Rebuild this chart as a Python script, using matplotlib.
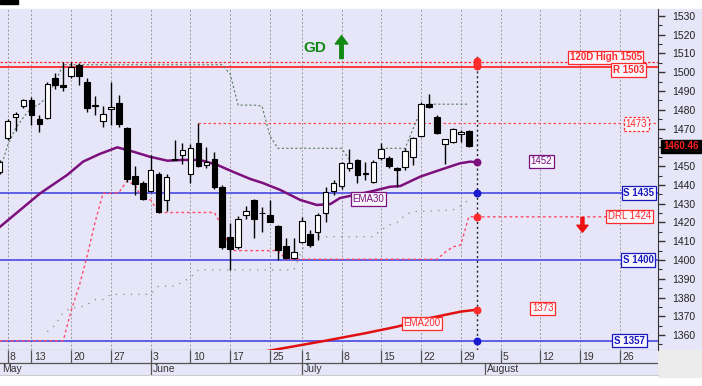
import matplotlib
matplotlib.use('Agg')
import matplotlib.pyplot as plt
import matplotlib.transforms as mtransforms
from matplotlib.patches import Rectangle
from matplotlib.ticker import MultipleLocator
import numpy as np

plt.rcParams['font.family'] = ['Liberation Sans', 'DejaVu Sans']

# daily candles, x = trading day index (0 = May 8)
day = np.arange(-1, 59)
opens = [1447, 1465, 1476, 1482, 1485, 1475, 1475.5, 1497, 1493, 1498,
         1504, 1495, 1482.5, 1474, 1480.5, 1483.5, 1470.5, 1445, 1441, 1437,
         1446, 1432, 1453.8, 1456, 1446, 1462.5, 1450.6, 1454, 1438.7, 1412.5,
         1407, 1424, 1432, 1425.2, 1424, 1418, 1407.5, 1401, 1409.7, 1414,
         1414.7, 1425, 1437, 1439.4, 1449, 1453, 1446.3, 1441.7, 1454.2, 1454.2,
         1448.8, 1449.7, 1454.7, 1466, 1483, 1476.4, 1461.8, 1463, 1467.1, 1468.7]
highs = [1453, 1475, 1479, 1486, 1487, 1477, 1495, 1499.5, 1505.5, 1505.5,
         1505, 1497, 1487.5, 1482, 1495, 1488, 1471, 1450, 1442, 1456,
         1447, 1446, 1464, 1462.5, 1462, 1473, 1460.4, 1457.7, 1440, 1419.5,
         1423.5, 1429, 1432.5, 1428, 1432, 1418.6, 1411.6, 1411.5, 1423, 1416,
         1425, 1439, 1442.5, 1452, 1459, 1453.6, 1452.4, 1453, 1462.5, 1455.4,
         1449.5, 1459.5, 1465.7, 1484, 1488.4, 1477, 1464.5, 1470.3, 1469, 1469]
lows = [1446, 1464, 1468.5, 1481, 1472, 1468, 1475, 1491, 1490, 1497,
        1493, 1479, 1477, 1471, 1472, 1471, 1441.5, 1434.5, 1432, 1436,
        1425, 1426, 1453, 1451, 1441, 1449.5, 1449, 1438, 1406, 1394.7,
        1406, 1422, 1411.5, 1415, 1420, 1400, 1400.4, 1400.5, 1409, 1407,
        1410.7, 1420.5, 1434.6, 1438, 1447.6, 1440.8, 1442.6, 1441, 1453.3, 1448.9,
        1439, 1448, 1450.6, 1465.5, 1481, 1467, 1451, 1462.5, 1463, 1460]
closes = [1452, 1474, 1478, 1485, 1477, 1472.5, 1494, 1493, 1492, 1503,
          1498, 1481, 1482, 1478, 1481.5, 1472.5, 1443, 1440.5, 1432.5, 1448,
          1425.5, 1444, 1453.5, 1458.5, 1459.5, 1450, 1452.4, 1438.7, 1407, 1406,
          1422, 1426, 1422, 1425, 1420.5, 1405.3, 1401, 1404.4, 1421, 1408,
          1424, 1436, 1441, 1451.5, 1451.5, 1445.3, 1446, 1452.4, 1459, 1450,
          1448, 1458.2, 1464.8, 1483, 1481.4, 1467.5, 1464.3, 1469.6, 1468.4, 1460.5]

ema30_day = [-1, 4.1, 7.5, 9.5, 11.6, 13.8, 15.8, 17.9, 20.1, 22.1, 24.2, 26.4, 28.4,
             30.5, 32.1, 34.3, 36.8, 38.9, 40.6, 41.8, 45.6, 48.1, 49.4, 51.9, 54.4,
             56.9, 58.2, 59]
ema30 = [1417.5, 1435.5, 1445.3, 1452.4, 1456.5, 1460, 1457.7, 1455, 1452.9, 1453.3,
         1453.3, 1450.6, 1446.9, 1443.2, 1441, 1437.3, 1432, 1429.3, 1429.8, 1433,
         1436.4, 1439, 1439.4, 1444.4, 1448, 1451.5, 1452.4, 1452]

ema200_day = [32, 36, 40, 45, 49, 53, 57, 58, 59]
ema200 = [1351, 1354, 1357, 1361, 1364.5, 1369, 1372.5, 1373, 1373.5]

drl_day = list(range(-1, 60)) + [80]
drl = [1357] * 9 + [1373, 1386, 1402, 1420, 1435.5, 1435.5, 1436, 1442, 1440, 1432.5,
                    1432] + [1425.3] * 8 + [1418, 1405] + [1405] * 6 + [1400.4] * 20 + \
      [1404, 1407, 1408, 1423, 1423, 1423]

trail_day = list(range(-1, 59))
trail = [1447, 1461, 1470, 1476, 1481, 1483, 1487, 1495, 1504] + [1504] * 20 + \
        [1499, 1482.5, 1482.5, 1482.5, 1482, 1466, 1459.5] + [1459.5] * 8 + \
        [1453.5, np.nan, np.nan, np.nan, 1459.5, 1459.5, 1459.5, 1459.5, 1470, 1480,
         1483, 1483, 1483, 1483, 1483, 1483]

stop_day = list(range(5, 59))
stop = [1361.8, 1365.5, 1372, 1374.6, 1374.6, 1376.2, 1378.9, 1378.9, 1381.6] + \
       [1381.7] * 5 + [1386, 1386, 1386, 1388.3, 1390.7] + [1394.7] * 13 + \
       [1405] + [1412.4] * 9 + [1416, 1418.6, 1420, 1424, 1425.7, 1426, 1426, 1426.3,
                                1426.5, 1426.6, 1429, 1432]

week_pos = [0, 3, 8, 13, 18, 23, 28, 33, 37, 42, 47, 52, 57, 62, 67, 72, 77]
week_lbl = ['8', '13', '20', '27', '3', '10', '17', '25', '1', '8', '15', '22', '29',
            '5', '12', '19', '26']
month_pos = [18, 37, 60]
month_lbl = ['June', 'July', 'August']

y_ticks = np.arange(1360, 1531, 10)
levels_blue = [1435.5, 1400, 1357]
last_price = 1460.46

lav = '#e6e6f8'
red = '#ff2a2a'
blue = '#5454e6'
purple = '#7d0f7d'

fig = plt.figure(figsize=(7.02, 3.86), dpi=100)
fig.patches.append(Rectangle((0, 36 / 386), 1, 341 / 386, transform=fig.transFigure,
                             color=lav, zorder=-10))
fig.patches.append(Rectangle((0, 382 / 386), 18 / 702, 4 / 386, transform=fig.transFigure,
                             color='black', zorder=-5))
fig.patches.append(Rectangle((658 / 702, 9 / 386), 44 / 702, 27 / 386,
                             transform=fig.transFigure, color='#ececec', zorder=-5))

ax = fig.add_axes([0, 36 / 386, 658 / 702, 341 / 386])
ax.set_facecolor(lav)
xmin, xmax = -0.95, 81.8
ax.set_xlim(xmin, xmax)
ax.set_ylim(1352.05, 1533.7)

ax.set_xticks(week_pos)
ax.tick_params(axis='x', length=0, labelbottom=False)
ax.grid(axis='x', color='#9a9a9a', ls=(0, (2, 2)), lw=0.7)
ax.set_axisbelow(True)

ax.yaxis.tick_right()
ax.set_yticks(y_ticks)
# the 1460 label sits under the last-price box
ax.set_yticklabels(['' if t == 1460 else str(t) for t in y_ticks])
ax.yaxis.set_minor_locator(MultipleLocator(5))
ax.tick_params(axis='y', which='major', length=5, width=1, pad=5, labelsize=7.5,
               labelcolor='#222222', color='#333333')
ax.tick_params(axis='y', which='minor', length=3, width=0.8, color='#333333')
for s in ['left', 'top']:
    ax.spines[s].set_visible(False)
ax.spines['right'].set_color('#333333')
ax.spines['bottom'].set_color('#444444')

# levels
ax.axhline(1503, color=red, lw=1.3, zorder=2)
ax.axhline(1505.5, color=red, lw=0.9, ls=(0, (2, 1.5)), zorder=2)
for lv in levels_blue:
    ax.axhline(lv, color=blue, lw=1.3, zorder=2)
ax.hlines(1473, 24, xmax, color='#ff4a4a', lw=0.9, ls=(0, (2, 2)), zorder=2)

# indicator lines
ax.plot(drl_day, drl, color='#ff4a6a', lw=1.0, ls=(0, (2, 2)), zorder=2)
ax.plot(trail_day, trail, color='#5c7a5c', lw=0.8, ls=(0, (2, 2)), zorder=2)
ax.plot(stop_day, stop, color='#8a8a8a', lw=0.9, ls=(0, (1, 5)), zorder=2)
ax.plot(ema30_day, ema30, color=purple, lw=1.8, zorder=3)
ax.plot(ema200_day, ema200, color='#e01010', lw=1.8, zorder=3)

# candles
o = np.array(opens)
c = np.array(closes)
colors = np.where(c > o, 'white', 'black')
ax.vlines(day, lows, highs, color='black', lw=1.0, zorder=4)
ax.bar(day, np.abs(c - o), bottom=np.minimum(o, c), width=0.7, color=colors,
       edgecolor='black', linewidth=0.8, zorder=5)

# current bar marker
ax.vlines(59, 1352, 1509, color='#222222', lw=1.0, ls=(0, (1.5, 2)), zorder=3)
ax.scatter([59, 59, 59], [1503.2, 1504.6, 1506], s=22, color=red, zorder=6)
ax.scatter([59], [1452], s=22, color=purple, zorder=6)
ax.scatter([59], [1435.5], s=22, color='#1a1ad0', zorder=6)
ax.scatter([59], [1423], s=22, color=red, zorder=6)
ax.scatter([59], [1373.5], s=22, color=red, zorder=6)
ax.scatter([59], [1357], s=22, color='#1a1ad0', zorder=6)


def tag(x, y, s, color, bold=False, ls='solid'):
    ax.text(x, y, s, color=color, fontsize=7, fontweight='bold' if bold else 'normal',
            ha='center', va='center', zorder=8,
            bbox=dict(boxstyle='square,pad=0.18', fc='#f7f7fd', ec=color, lw=0.9, ls=ls))


tag(75.2, 1507.9, '120D High 1505', red, True)
tag(78.1, 1501.3, 'R 1503', red, True)
tag(79.1, 1472.5, '1473', red, False, ls=(0, (2, 1.5)))
tag(67.1, 1452.5, '1452', purple)
tag(79.4, 1435.7, 'S 1435', '#1818c0', True)
tag(78.2, 1423.2, 'DRL 1424', red)
tag(79.3, 1400, 'S 1400', '#1818c0', True)
tag(67.3, 1374.2, '1373', red)
tag(78.2, 1357.1, 'S 1357', '#1818c0', True)
tag(45.4, 1432.5, 'EMA30', purple)
tag(52.1, 1366.2, 'EMA200', red)

ax.text(38.6, 1513, 'GD', color='#138a13', fontsize=11, fontweight='bold',
        ha='center', va='center')
ax.annotate('', xy=(42.0, 1519.5), xytext=(42.0, 1507.3),
            arrowprops=dict(facecolor='#138a13', edgecolor='#138a13', width=2.5,
                            headwidth=9, headlength=6))
ax.annotate('', xy=(72.3, 1414.8), xytext=(72.3, 1422.6),
            arrowprops=dict(facecolor='#ee1111', edgecolor='#ee1111', width=2.2,
                            headwidth=8, headlength=5))

trans = mtransforms.blended_transform_factory(ax.transAxes, ax.transData)
ax.text(1.008, last_price, f'{last_price:.2f}', transform=trans, color='#ff2020',
        fontsize=7, fontweight='bold', ha='left', va='center', clip_on=False, zorder=9,
        bbox=dict(boxstyle='square,pad=0.2', fc='black', ec='black'))

# date strip
ax2 = fig.add_axes([0, 11 / 386, 658 / 702, 25 / 386])
ax2.set_facecolor(lav)
ax2.set_xlim(xmin, xmax)
ax2.set_ylim(0, 1)
ax2.set_xticks([])
ax2.set_yticks([])
for s in ['left', 'right', 'top']:
    ax2.spines[s].set_visible(False)
ax2.spines['bottom'].set_color('#cccccc')
ax2.axhline(0.49, color='#555555', lw=0.9)
ax2.vlines(week_pos, 0.49, 1, color='#555555', lw=0.9)
for p, lbl in zip(week_pos, week_lbl):
    ax2.text(p + 0.3, 0.73, lbl, fontsize=7.5, color='#333333', ha='left', va='center')
ax2.vlines(month_pos, 0, 0.49, color='#555555', lw=0.9)
ax2.text(xmin + 0.3, 0.23, 'May', fontsize=7.5, color='#333333', ha='left', va='center')
for p, lbl in zip(month_pos, month_lbl):
    ax2.text(p + 0.25, 0.23, lbl, fontsize=7.5, color='#333333', ha='left', va='center')

fig.savefig('out.png', dpi=100, facecolor='white')
